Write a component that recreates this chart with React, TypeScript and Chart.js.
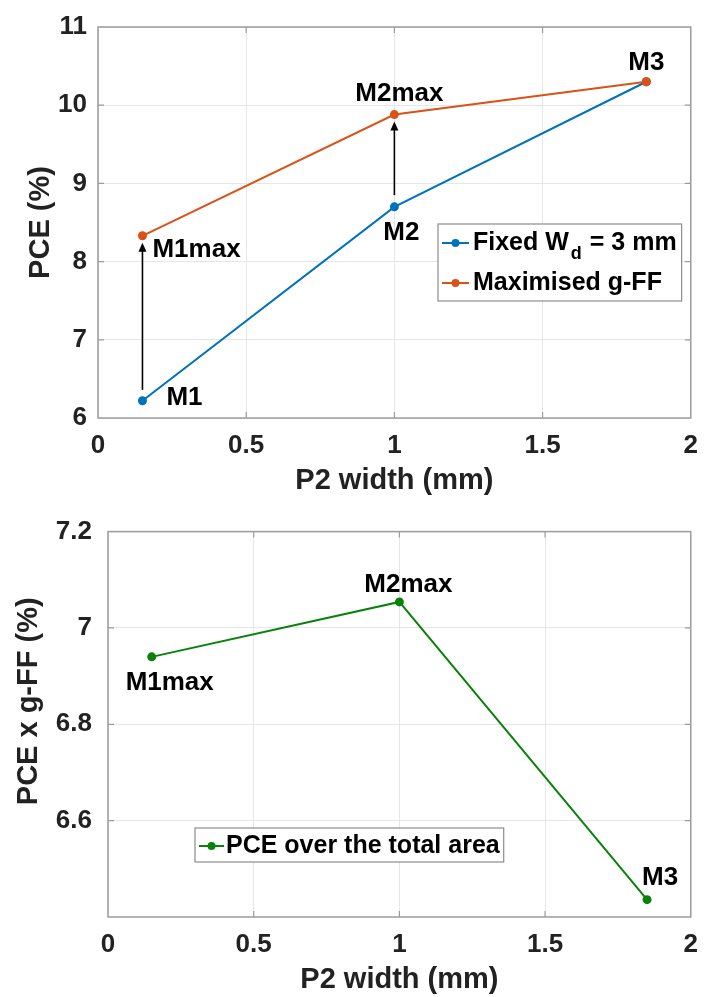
import React, { useEffect, useRef } from 'react';
import { Chart, registerables } from 'chart.js';

Chart.register(...registerables);

// ---------- data ----------
const P2_WIDTH = [0.15, 1, 1.85];
const PCE_FIXED_WD = [6.22, 8.70, 10.30];
const PCE_MAX_GFF = [8.33, 9.88, 10.30];
const PCE_TOTAL_AREA = [6.94, 7.054, 6.436];

const X_TICKS = [0, 0.5, 1, 1.5, 2];
const TOP_Y_TICKS = [6, 7, 8, 9, 10, 11];
const BOTTOM_Y_TICKS = [6.6, 6.8, 7, 7.2];

const FIXED_LABEL = 'Fixed W_d = 3 mm';
const MAX_LABEL = 'Maximised g-FF';
const TOTAL_LABEL = 'PCE over the total area';

const ARROW_X = [0.15, 1];
const ARROW_FROM = [6.36, 8.85];
const ARROW_TO = [8.24, 9.79];

// ---------- styles ----------
const BLUE = '#0072BD';
const ORANGE = '#D95319';
const GREEN = '#0A820A';
const GRID = '#e6e6e6';
const FRAME = '#9c9c9c';
const TEXT = '#222222';
const FAMILY = "'Liberation Sans', Arial, sans-serif";
const TICK_FONT = { family: FAMILY, size: 26, weight: 'bold' as const };
const TITLE_FONT = { family: FAMILY, size: 29, weight: 'bold' as const };
const ANNOT_FONT = `bold 26px ${FAMILY}`;
const LEGEND_FONT = `bold 25px ${FAMILY}`;
const LEGEND_SUB_FONT = `bold 18px ${FAMILY}`;

// ---------- plugins ----------
const framePlugin = {
  id: 'frame',
  afterDatasetsDraw(chart: any) {
    const { ctx, chartArea: a } = chart;
    const xs = chart.scales.x;
    const ys = chart.scales.y;
    ctx.save();
    ctx.strokeStyle = FRAME;
    ctx.lineWidth = 1.5;
    ctx.strokeRect(a.left, a.top, a.right - a.left, a.bottom - a.top);
    ctx.lineWidth = 1.2;
    const tl = 6;
    ctx.beginPath();
    xs.ticks.forEach((t: any) => {
      const px = xs.getPixelForValue(t.value);
      if (px <= a.left + 1 || px >= a.right - 1) return;
      ctx.moveTo(px, a.bottom);
      ctx.lineTo(px, a.bottom - tl);
      ctx.moveTo(px, a.top);
      ctx.lineTo(px, a.top + tl);
    });
    ys.ticks.forEach((t: any) => {
      const py = ys.getPixelForValue(t.value);
      if (py <= a.top + 1 || py >= a.bottom - 1) return;
      ctx.moveTo(a.left, py);
      ctx.lineTo(a.left + tl, py);
      ctx.moveTo(a.right, py);
      ctx.lineTo(a.right - tl, py);
    });
    ctx.stroke();
    ctx.restore();
  },
};

const annotationPlugin = {
  id: 'annotations',
  afterDatasetsDraw(chart: any, _args: any, opts: any) {
    const { ctx } = chart;
    const xs = chart.scales.x;
    const ys = chart.scales.y;
    ctx.save();
    (opts.arrows || []).forEach((ar: any) => {
      const px = xs.getPixelForValue(ar.x);
      const y0 = ys.getPixelForValue(ar.from);
      const y1 = ys.getPixelForValue(ar.to);
      ctx.strokeStyle = '#000';
      ctx.fillStyle = '#000';
      ctx.lineWidth = 1.6;
      ctx.beginPath();
      ctx.moveTo(px, y0);
      ctx.lineTo(px, y1 + 4);
      ctx.stroke();
      ctx.beginPath();
      ctx.moveTo(px, y1);
      ctx.lineTo(px - 4, y1 + 9);
      ctx.lineTo(px + 4, y1 + 9);
      ctx.closePath();
      ctx.fill();
    });
    ctx.font = ANNOT_FONT;
    ctx.fillStyle = '#000';
    ctx.textBaseline = 'middle';
    (opts.labels || []).forEach((lb: any) => {
      const pt = chart.getDatasetMeta(lb.ds).data[lb.idx];
      ctx.textAlign = lb.align;
      ctx.fillText(lb.text, pt.x + lb.dx, pt.y + lb.dy);
    });
    ctx.restore();
  },
};

function splitLabel(label: string) {
  const m = label.match(/^(.*?)_(\w)(.*)$/);
  if (!m) return [{ text: label, sub: false }];
  return [
    { text: m[1], sub: false },
    { text: m[2], sub: true },
    { text: m[3], sub: false },
  ];
}

function drawLabel(ctx: CanvasRenderingContext2D, label: string, x: number, y: number, draw: boolean) {
  let cx = x;
  splitLabel(label).forEach((seg) => {
    ctx.font = seg.sub ? LEGEND_SUB_FONT : LEGEND_FONT;
    const w = ctx.measureText(seg.text).width;
    if (draw) ctx.fillText(seg.text, cx + (seg.sub ? 2 : 0), y + (seg.sub ? 11 : 0));
    cx += w + (seg.sub ? 3 : 0);
  });
  return cx - x;
}

const legendPlugin = {
  id: 'boxLegend',
  afterDraw(chart: any, _args: any, opts: any) {
    const { ctx } = chart;
    const items = chart.data.datasets.map((d: any) => ({ label: d.label, color: d.borderColor }));
    ctx.save();
    ctx.textBaseline = 'middle';
    ctx.textAlign = 'left';
    const widths = items.map((it: any) => drawLabel(ctx, it.label, 0, 0, false));
    const w = opts.textStart + Math.max(...widths) + opts.padRight;
    ctx.fillStyle = '#fff';
    ctx.fillRect(opts.left, opts.top, w, opts.height);
    ctx.strokeStyle = '#8c8c8c';
    ctx.lineWidth = 1.2;
    ctx.strokeRect(opts.left, opts.top, w, opts.height);
    items.forEach((it: any, i: number) => {
      const cy = opts.top + opts.firstRow + i * opts.rowHeight;
      ctx.strokeStyle = it.color;
      ctx.fillStyle = it.color;
      ctx.lineWidth = 2;
      ctx.beginPath();
      ctx.moveTo(opts.left + opts.lineStart, cy);
      ctx.lineTo(opts.left + opts.lineEnd, cy);
      ctx.stroke();
      ctx.beginPath();
      ctx.arc(opts.left + (opts.lineStart + opts.lineEnd) / 2, cy, 4, 0, Math.PI * 2);
      ctx.fill();
      ctx.fillStyle = '#000';
      drawLabel(ctx, it.label, opts.left + opts.textStart, cy, true);
    });
    ctx.restore();
  },
};

const sideTitlePlugin = {
  id: 'sideTitle',
  afterDraw(chart: any, _args: any, opts: any) {
    const { ctx, chartArea: a } = chart;
    ctx.save();
    ctx.font = `bold ${TITLE_FONT.size}px ${FAMILY}`;
    ctx.fillStyle = TEXT;
    ctx.textAlign = 'center';
    ctx.textBaseline = 'middle';
    ctx.translate(opts.x, (a.top + a.bottom) / 2 + opts.shift);
    ctx.rotate(-Math.PI / 2);
    ctx.fillText(opts.text, 0, 0);
    ctx.restore();
  },
};

function axisX(ticks: number[], height: number, titlePad: number) {
  return {
    type: 'linear',
    min: 0,
    max: 2,
    afterBuildTicks: (s: any) => {
      s.ticks = ticks.map((v) => ({ value: v }));
    },
    afterFit: (s: any) => {
      s.height = height;
    },
    grid: { color: GRID, lineWidth: 1, drawTicks: false },
    border: { display: false },
    ticks: { font: TICK_FONT, color: TEXT, padding: 12, autoSkip: false, maxRotation: 0, callback: (v: any) => String(v) },
    title: { display: true, text: 'P2 width (mm)', font: TITLE_FONT, color: TEXT, padding: { top: 0, bottom: titlePad } },
  };
}

function axisY(ticks: number[], min: number, max: number, width: number, pad: number) {
  return {
    type: 'linear',
    min,
    max,
    afterBuildTicks: (s: any) => {
      s.ticks = ticks.map((v) => ({ value: v }));
    },
    afterFit: (s: any) => {
      s.width = width;
    },
    grid: { color: GRID, lineWidth: 1, drawTicks: false },
    border: { display: false },
    ticks: { font: TICK_FONT, color: TEXT, padding: pad, autoSkip: false, callback: (v: any) => String(v) },
  };
}

function series(label: string, ys: number[], color: string, order: number) {
  return {
    label,
    data: P2_WIDTH.map((x, i) => ({ x, y: ys[i] })),
    borderColor: color,
    backgroundColor: color,
    pointBackgroundColor: color,
    pointBorderColor: color,
    pointRadius: 4.5,
    pointBorderWidth: 0,
    borderWidth: 2,
    tension: 0,
    order,
  };
}

const topConfig: any = {
  type: 'line',
  data: {
    datasets: [series(FIXED_LABEL, PCE_FIXED_WD, BLUE, 1), series(MAX_LABEL, PCE_MAX_GFF, ORANGE, 0)],
  },
  options: {
    animation: false,
    responsive: false,
    devicePixelRatio: 1,
    layout: { padding: { left: 0, top: 27, right: 11, bottom: 0 } },
    scales: {
      x: axisX(X_TICKS, 82, 2),
      y: axisY(TOP_Y_TICKS, 6, 11, 98, 11),
    },
    plugins: {
      legend: { display: false },
      tooltip: { enabled: false },
      annotations: {
        arrows: ARROW_X.map((x, i) => ({ x, from: ARROW_FROM[i], to: ARROW_TO[i] })),
        labels: [
          { text: 'M1', ds: 0, idx: 0, dx: 24, dy: -3, align: 'left' },
          { text: 'M2', ds: 0, idx: 1, dx: 7, dy: 26, align: 'center' },
          { text: 'M3', ds: 1, idx: 2, dx: 0, dy: -19, align: 'center' },
          { text: 'M1max', ds: 1, idx: 0, dx: 10, dy: 14, align: 'left' },
          { text: 'M2max', ds: 1, idx: 1, dx: 5, dy: -21, align: 'center' },
        ],
      },
      boxLegend: { left: 438, top: 224, height: 77, firstRow: 19, rowHeight: 40, lineStart: 4, lineEnd: 31, textStart: 35, padRight: 5 },
      sideTitle: { text: 'PCE (%)', x: 41, shift: 0 },
    },
  },
  plugins: [framePlugin, annotationPlugin, legendPlugin, sideTitlePlugin],
};

const bottomConfig: any = {
  type: 'line',
  data: {
    datasets: [series(TOTAL_LABEL, PCE_TOTAL_AREA, GREEN, 0)],
  },
  options: {
    animation: false,
    responsive: false,
    devicePixelRatio: 1,
    layout: { padding: { left: 0, top: 27, right: 14, bottom: 0 } },
    scales: {
      x: axisX(X_TICKS, 80, 0),
      y: axisY(BOTTOM_Y_TICKS, 6.4, 7.2, 108, 16),
    },
    plugins: {
      legend: { display: false },
      tooltip: { enabled: false },
      annotations: {
        arrows: [],
        labels: [
          { text: 'M1max', ds: 0, idx: 0, dx: 18, dy: 26, align: 'center' },
          { text: 'M2max', ds: 0, idx: 1, dx: 9, dy: -17, align: 'center' },
          { text: 'M3', ds: 0, idx: 2, dx: 13, dy: -22, align: 'center' },
        ],
      },
      boxLegend: { left: 195, top: 328, height: 34, firstRow: 18, rowHeight: 40, lineStart: 4, lineEnd: 29, textStart: 31, padRight: 4 },
      sideTitle: { text: 'PCE x g-FF (%)', x: 29, shift: -23 },
    },
  },
  plugins: [framePlugin, annotationPlugin, legendPlugin, sideTitlePlugin],
};

function ChartCanvas({ config, height, top }: { config: any; height: number; top: number }) {
  const ref = useRef<HTMLCanvasElement | null>(null);
  useEffect(() => {
    if (!ref.current) return;
    const chart = new Chart(ref.current, config);
    return () => chart.destroy();
  }, [config]);
  return (
    <canvas
      ref={ref}
      width={710}
      height={height}
      style={{ position: 'absolute', left: 0, top, width: 710, height, display: 'block' }}
    />
  );
}

export default function App() {
  return (
    <div style={{ position: 'absolute', left: 0, top: 0, width: 710, height: 997, background: '#fff' }}>
      <ChartCanvas config={topConfig} height={500} top={0} />
      <ChartCanvas config={bottomConfig} height={497} top={500} />
    </div>
  );
}
